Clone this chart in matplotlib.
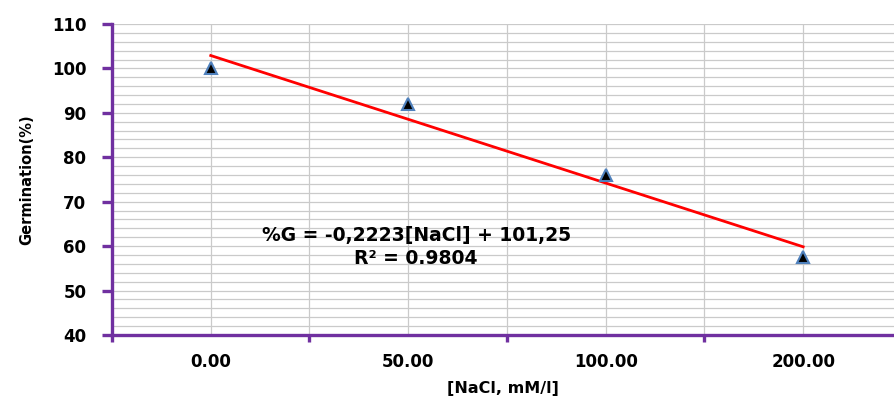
import numpy as np
import matplotlib.pyplot as plt
from matplotlib.ticker import MultipleLocator, FixedLocator

# NaCl concentration groups (category axis) and germination
nacl_labels = ['0.00', '50.00', '100.00', '200.00']
germination = [100, 92, 76, 57.5]

purple = '#7030A0'
pos = np.arange(1, len(nacl_labels) + 1)

fig = plt.figure(figsize=(8.94, 4.01), dpi=100)
ax = fig.add_axes([0.1253, 0.1646, 0.8747, 0.7756])

# linear trend over the category positions
slope, inter = np.polyfit(pos, germination, 1)
ax.plot([pos[0], pos[-1]], [slope * pos[0] + inter, slope * pos[-1] + inter],
        color='#FF0000', lw=2, zorder=3)
ax.plot(pos, germination, ls='none', marker='^', ms=9,
        mfc='black', mec='#4F81BD', mew=1.5, zorder=4)

ax.set_xlim(0.5, 4.46)
ax.set_ylim(40, 110)

ax.xaxis.set_major_locator(FixedLocator(pos))
ax.set_xticklabels(nacl_labels)
ax.xaxis.set_minor_locator(FixedLocator(np.arange(0.5, 5, 1.0)))
ax.yaxis.set_major_locator(MultipleLocator(10))
ax.yaxis.set_minor_locator(MultipleLocator(2))

ax.grid(True, which='both', color='#CACACA', lw=0.9)
ax.set_axisbelow(True)

for s in ['top', 'right']:
    ax.spines[s].set_visible(False)
for s in ['left', 'bottom']:
    ax.spines[s].set_color(purple)
    ax.spines[s].set_linewidth(2.4)

ax.tick_params(axis='x', which='major', length=0, pad=13,
               labelsize=12)
ax.tick_params(axis='x', which='minor', length=5, width=2.4,
               color=purple, direction='out')
ax.tick_params(axis='y', which='major', length=7, width=2.4,
               color=purple, direction='out', pad=11.5, labelsize=12)
ax.tick_params(axis='y', which='minor', length=0)
for lab in ax.get_xticklabels() + ax.get_yticklabels():
    lab.set_fontweight('bold')

ax.set_xlabel('[NaCl, mM/l]', fontsize=11.5, fontweight='bold', labelpad=7)
ax.set_ylabel('Germination(%)', fontsize=10.5, fontweight='bold', labelpad=13)

ax.text(2.04, 62.3, '%G = -0,2223[NaCl] + 101,25', ha='center', va='center',
        fontsize=13.5, fontweight='bold')
ax.text(2.04, 57.3, 'R² = 0.9804', ha='center', va='center',
        fontsize=13.5, fontweight='bold')

plt.savefig('out.png', dpi=100)
